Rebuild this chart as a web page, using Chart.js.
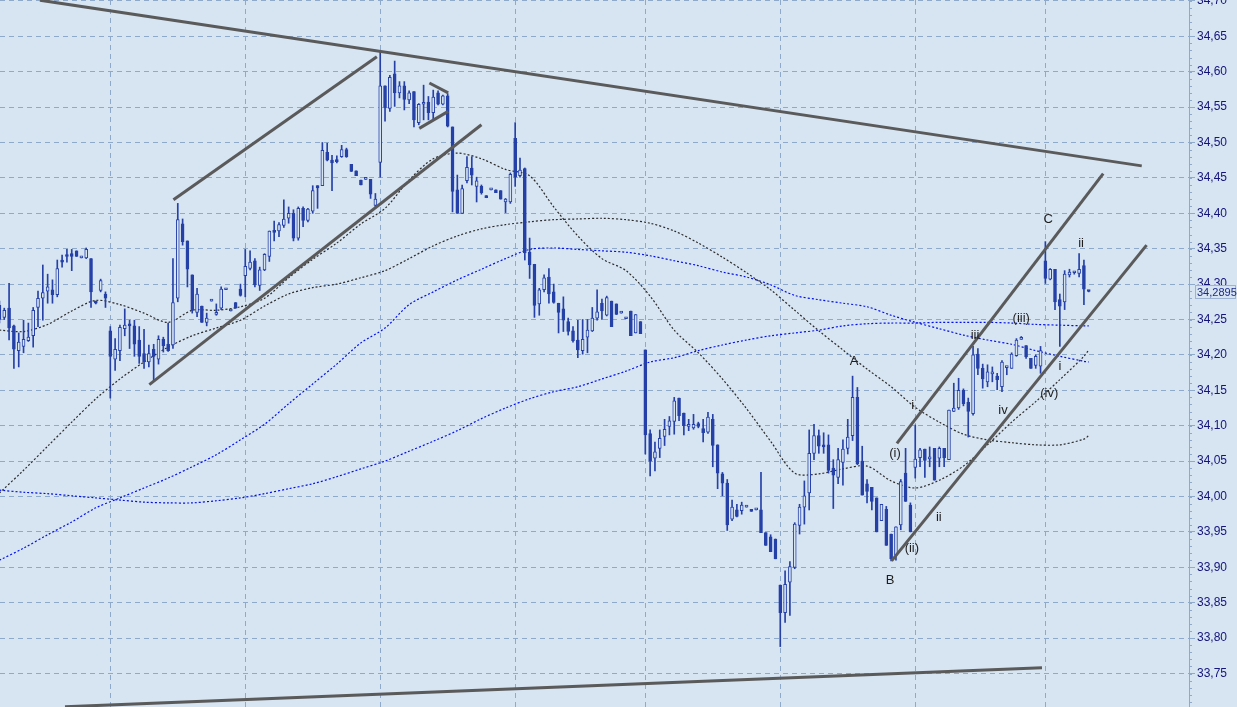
<!DOCTYPE html>
<html>
<head>
<meta charset="utf-8">
<script src="https://cdn.jsdelivr.net/npm/chart.js@4.4.1/dist/chart.umd.min.js"></script>
<style>
  html, body { margin: 0; padding: 0; background: #d7e4f2; }
  #wrap { width: 1237px; height: 707px; }
</style>
</head>
<body>
<div id="wrap"><canvas id="chart"></canvas></div>
<script>
/* DATA */

const opens = [
34.270,34.253,34.266,34.241,34.206,34.212,34.220,34.227,34.267,34.280,
34.290,34.292,34.285,34.334,34.341,34.343,34.347,34.337,34.337,34.336,
34.276,34.291,34.286,34.234,34.194,34.206,34.237,34.242,34.241,34.221,
34.202,34.190,34.208,34.194,34.222,34.215,34.214,34.280,34.385,34.361,
34.313,34.260,34.269,34.246,34.276,34.257,34.266,34.292,34.262,34.274,
34.293,34.312,34.322,34.333,34.298,34.320,34.339,34.375,34.375,34.383,
34.393,34.400,34.365,34.407,34.390,34.403,34.439,34.439,34.486,34.475,
34.475,34.480,34.490,34.469,34.460,34.447,34.448,34.448,34.411,34.472,
34.580,34.548,34.597,34.570,34.580,34.560,34.572,34.528,34.554,34.557,
34.542,34.570,34.554,34.566,34.522,34.433,34.400,34.446,34.464,34.438,
34.438,34.425,34.433,34.433,34.432,34.416,34.416,34.506,34.453,34.463,
34.345,34.328,34.272,34.292,34.310,34.289,34.273,34.265,34.247,34.234,
34.221,34.206,34.225,34.234,34.252,34.273,34.256,34.276,34.272,34.259,
34.251,34.262,34.231,34.247,34.207,34.089,34.054,34.068,34.085,34.099,
34.106,34.139,34.118,34.099,34.097,34.103,34.096,34.091,34.109,34.073,
34.032,34.019,33.968,33.981,33.980,33.985,33.981,33.981,33.981,33.949,
33.943,33.940,33.875,33.836,33.879,33.900,33.959,33.985,34.005,34.061,
34.086,34.073,34.073,34.040,34.027,34.048,34.068,34.086,34.140,34.050,
34.018,34.013,33.998,33.966,33.982,33.947,33.917,33.960,34.033,33.988,
34.041,34.055,34.067,34.053,34.068,34.054,34.068,34.052,34.120,34.125,
34.150,34.133,34.117,34.201,34.181,34.162,34.173,34.170,34.155,34.182,
34.181,34.199,34.222,34.213,34.195,34.185,34.184,34.333,34.307,34.321,
34.278,34.275,34.313,34.316,34.315,34.326,34.290
];
const highs = [
34.276,34.266,34.301,34.242,34.231,34.249,34.245,34.267,34.290,34.327,
34.314,34.306,34.334,34.341,34.349,34.349,34.347,34.337,34.351,34.336,
34.276,34.307,34.289,34.240,34.223,34.242,34.265,34.249,34.249,34.240,
34.236,34.214,34.215,34.227,34.225,34.245,34.336,34.414,34.392,34.361,
34.313,34.294,34.269,34.259,34.276,34.272,34.296,34.292,34.262,34.274,
34.300,34.349,34.347,34.336,34.324,34.343,34.375,34.389,34.387,34.419,
34.409,34.405,34.409,34.409,34.407,34.439,34.439,34.500,34.499,34.482,
34.481,34.496,34.492,34.469,34.460,34.447,34.448,34.448,34.428,34.630,
34.580,34.595,34.615,34.586,34.586,34.573,34.572,34.555,34.581,34.565,
34.574,34.573,34.567,34.569,34.522,34.454,34.440,34.480,34.480,34.451,
34.440,34.425,34.433,34.433,34.432,34.421,34.457,34.528,34.478,34.464,
34.365,34.328,34.294,34.313,34.322,34.300,34.273,34.282,34.252,34.240,
34.249,34.250,34.250,34.267,34.292,34.279,34.283,34.276,34.272,34.259,
34.251,34.262,34.257,34.247,34.207,34.094,34.077,34.094,34.109,34.113,
34.140,34.139,34.118,34.109,34.116,34.105,34.109,34.119,34.116,34.073,
34.034,34.024,33.995,33.989,33.992,33.985,33.981,33.981,34.034,33.949,
33.946,33.940,33.875,33.895,33.908,33.963,33.989,34.022,34.094,34.102,
34.094,34.090,34.087,34.052,34.068,34.080,34.109,34.170,34.154,34.071,
34.024,34.013,33.998,33.989,33.986,33.947,33.957,34.024,34.068,33.991,
34.101,34.068,34.067,34.070,34.068,34.070,34.068,34.122,34.160,34.167,
34.152,34.139,34.212,34.209,34.187,34.186,34.183,34.174,34.192,34.183,
34.203,34.223,34.226,34.213,34.195,34.200,34.212,34.360,34.322,34.321,
34.286,34.319,34.321,34.318,34.343,34.334,34.290
];
const lows = [
34.245,34.250,34.221,34.181,34.183,34.203,34.219,34.211,34.240,34.249,
34.273,34.273,34.282,34.324,34.331,34.319,34.339,34.337,34.336,34.267,
34.272,34.289,34.267,34.139,34.178,34.192,34.227,34.209,34.198,34.188,
34.181,34.183,34.164,34.187,34.204,34.205,34.209,34.275,34.355,34.296,
34.259,34.254,34.246,34.241,34.276,34.256,34.264,34.292,34.262,34.266,
34.283,34.282,34.320,34.296,34.291,34.319,34.332,34.361,34.367,34.380,
34.386,34.361,34.362,34.381,34.388,34.400,34.407,34.439,34.474,34.432,
34.471,34.479,34.479,34.459,34.453,34.440,34.448,34.421,34.407,34.451,
34.530,34.544,34.551,34.563,34.546,34.555,34.522,34.525,34.532,34.532,
34.532,34.553,34.553,34.522,34.402,34.400,34.400,34.443,34.440,34.416,
34.427,34.422,34.433,34.429,34.420,34.401,34.414,34.438,34.451,34.334,
34.308,34.253,34.256,34.289,34.273,34.273,34.231,34.233,34.228,34.218,
34.196,34.201,34.203,34.233,34.249,34.250,34.255,34.240,34.257,34.259,
34.251,34.227,34.231,34.230,34.060,34.029,34.036,34.055,34.072,34.087,
34.088,34.107,34.087,34.093,34.095,34.097,34.077,34.089,34.042,34.011,
34.001,33.952,33.966,33.971,33.975,33.985,33.979,33.981,33.949,33.931,
33.922,33.912,33.788,33.822,33.832,33.898,33.947,33.961,33.981,34.052,
34.061,34.061,34.033,33.983,34.018,34.016,34.060,34.079,34.045,34.002,
33.991,33.981,33.950,33.966,33.931,33.909,33.910,33.953,33.993,33.950,
34.026,34.042,34.027,34.042,34.023,34.042,34.042,34.052,34.120,34.123,
34.128,34.084,34.115,34.172,34.153,34.155,34.162,34.151,34.148,34.172,
34.181,34.198,34.222,34.195,34.181,34.181,34.174,34.301,34.306,34.264,
34.212,34.264,34.310,34.314,34.310,34.271,34.289
];
const closes = [
34.250,34.263,34.238,34.208,34.218,34.222,34.225,34.263,34.280,34.288,
34.296,34.285,34.322,34.331,34.339,34.339,34.339,34.337,34.349,34.289,
34.273,34.305,34.280,34.198,34.208,34.239,34.242,34.241,34.215,34.198,
34.190,34.202,34.198,34.222,34.213,34.206,34.274,34.391,34.360,34.321,
34.263,34.286,34.246,34.252,34.276,34.260,34.293,34.292,34.262,34.266,
34.284,34.325,34.331,34.299,34.320,34.342,34.375,34.373,34.384,34.392,
34.400,34.365,34.407,34.390,34.406,34.432,34.436,34.489,34.475,34.471,
34.473,34.490,34.480,34.459,34.453,34.440,34.448,34.427,34.420,34.580,
34.549,34.592,34.570,34.580,34.561,34.570,34.532,34.554,34.554,34.542,
34.564,34.554,34.566,34.523,34.431,34.400,34.435,34.465,34.454,34.446,
34.429,34.422,34.433,34.429,34.420,34.420,34.455,34.451,34.461,34.344,
34.327,34.270,34.292,34.309,34.286,34.274,34.260,34.249,34.233,34.220,
34.207,34.222,34.235,34.252,34.261,34.262,34.281,34.240,34.257,34.259,
34.251,34.227,34.257,34.230,34.087,34.050,34.063,34.082,34.095,34.107,
34.135,34.114,34.100,34.102,34.102,34.099,34.090,34.112,34.072,34.033,
34.019,33.960,33.985,33.972,33.988,33.985,33.979,33.981,33.949,33.931,
33.922,33.912,33.836,33.876,33.901,33.961,33.985,34.001,34.061,34.086,
34.071,34.070,34.037,34.030,34.052,34.067,34.084,34.140,34.046,34.002,
34.007,33.993,33.950,33.989,33.931,33.912,33.957,34.021,33.993,33.950,
34.053,34.066,34.051,34.056,34.023,34.068,34.055,34.122,34.125,34.150,
34.131,34.120,34.200,34.181,34.166,34.176,34.176,34.165,34.190,34.182,
34.201,34.221,34.222,34.197,34.181,34.198,34.206,34.308,34.321,34.275,
34.269,34.314,34.317,34.316,34.321,34.293,34.2895
];
const lastPrice = 34.2895;

// moving averages, read at every 5th bar
const maIdx = [0,5,10,15,20,25,30,35,40,45,50,55,60,65,70,75,80,85,90,95,
  100,105,110,115,120,125,130,135,140,145,150,155,160,165,170,175,180,185,190,195,
  200,205,210,215,220,225,226];
const maFast = [34.235,34.233,34.243,34.262,34.277,34.271,34.259,34.246,34.263,34.263,
  34.268,34.280,34.309,34.335,34.358,34.385,34.407,34.447,34.477,34.485,
  34.477,34.462,34.453,34.409,34.368,34.336,34.319,34.283,34.235,34.203,
  34.166,34.124,34.078,34.033,34.032,34.039,34.043,34.022,34.012,34.023,
  34.043,34.073,34.105,34.134,34.165,34.198,34.207];
const maMid = [34.005,34.037,34.071,34.105,34.138,34.166,34.190,34.211,34.227,34.238,
  34.249,34.269,34.286,34.295,34.300,34.309,34.319,34.336,34.354,34.368,
  34.378,34.384,34.388,34.391,34.392,34.393,34.391,34.386,34.375,34.358,
  34.338,34.316,34.292,34.263,34.234,34.207,34.180,34.155,34.126,34.105,
  34.088,34.080,34.076,34.073,34.073,34.081,34.086];
const maBlue1 = [33.910,33.927,33.946,33.964,33.984,33.998,34.012,34.026,34.042,34.059,
  34.080,34.102,34.131,34.159,34.187,34.217,34.238,34.271,34.289,34.306,
  34.321,34.336,34.349,34.351,34.349,34.347,34.345,34.340,34.333,34.326,
  34.317,34.310,34.299,34.284,34.278,34.273,34.268,34.256,34.246,34.237,
  34.228,34.221,34.215,34.206,34.198,34.191,34.190];
const maBlue2 = [34.009,34.006,34.004,34.001,33.998,33.995,33.992,33.991,33.991,33.994,
  33.998,34.004,34.011,34.018,34.028,34.039,34.050,34.064,34.078,34.093,
  34.110,34.125,34.138,34.148,34.155,34.166,34.177,34.190,34.196,34.206,
  34.214,34.221,34.227,34.231,34.235,34.241,34.244,34.245,34.245,34.246,
  34.246,34.246,34.245,34.243,34.242,34.241,34.241];

// drawn trend lines: [x1, y1, x2, y2] in bar index / price
const trendLines = [
  [8.4, 34.701, 237.0, 34.467],
  [13.6, 33.703, 216.3, 33.758],
  [36.1, 34.419, 78.3, 34.621],
  [31.1, 34.158, 100.0, 34.525],
  [89.2, 34.584, 93.1, 34.570],
  [87.1, 34.520, 93.1, 34.544],
  [186.2, 34.075, 229.0, 34.456],
  [185.1, 33.909, 238.0, 34.355]
];

// wave count labels
const waveText = ['A','B','C','(i)','(ii)','(iii)','(iv)','i','ii','iii','iv','i','ii'];
const waveX = [177.3,184.8,217.6,185.8,189.3,212.0,217.8,189.5,194.9,202.4,208.2,220.0,224.4];
const waveY = [34.191,33.882,34.392,34.061,33.926,34.252,34.146,34.129,33.971,34.227,34.121,34.184,34.358];

const gridIdx = [23,51,79,107,134,162,190,217];

/* STYLE */

const bg = '#d7e4f2';
const candleBlue = '#2541a8';
const gridBlue = '#8fa9cb';

/* BUILD */

const wicks = [];
const bodies = [];
const bodyFill = [];
for (let i = 0; i < opens.length; i++) {
    wicks.push({x: i, y: [lows[i], highs[i]]});
    bodies.push({x: i, y: [Math.min(opens[i], closes[i]), Math.max(opens[i], closes[i])]});
    bodyFill.push(closes[i] < opens[i] ? candleBlue : bg);
}

function series(vals){
    return maIdx.map((k, j) => ({x: k, y: vals[j]}));
}

const lineSets = trendLines.map(t => ({
    type: 'line',
    data: [{x: t[0], y: t[1]}, {x: t[2], y: t[3]}],
    borderColor: '#5a5a5a',
    borderWidth: 3,
    pointRadius: 0,
    order: 0
}));

function maSet(vals, color){
    return {
        type: 'line',
        data: series(vals),
        borderColor: color,
        borderWidth: 1.2,
        borderDash: [2, 2],
        pointRadius: 0,
        tension: 0.3,
        order: 3
    };
}

const yMin = 34 + (496.5 - 707) / 708;
const yMax = 34 + 496.5 / 708;

/* PLUGIN: background, minor ticks, price box, wave labels */

const extras = {
    id: 'extras',
    beforeDraw(chart){
        const c = chart.ctx;
        c.save();
        c.fillStyle = bg;
        c.fillRect(0, 0, chart.width, chart.height);
        c.restore();
    },
    afterDraw(chart){
        const c = chart.ctx;
        const xs = chart.scales.x;
        const ys = chart.scales.y;
        const ax = chart.chartArea.right;

        c.save();
        c.strokeStyle = gridBlue;
        c.lineWidth = 1;
        for (let k = 0; k <= 100; k++) {
            const py = Math.round(ys.getPixelForValue(33.70 + k * 0.01)) + 0.5;
            c.beginPath();
            c.moveTo(ax, py);
            c.lineTo(ax + 3, py);
            c.stroke();
        }

        // last price box
        const py = Math.round(ys.getPixelForValue(lastPrice));
        c.fillStyle = bg;
        c.fillRect(ax + 6, py - 7, chart.width - ax - 7, 14);
        c.strokeStyle = '#9db3d2';
        c.strokeRect(ax + 6.5, py - 6.5, chart.width - ax - 8, 13);
        c.fillStyle = '#1c2a8c';
        c.font = '11px "Liberation Sans", Arial, sans-serif';
        c.textBaseline = 'middle';
        c.fillText(lastPrice.toFixed(4).replace('.', ','), ax + 8, py + 0.5);

        // wave labels
        c.fillStyle = '#1e1e1e';
        c.font = '13px "Liberation Sans", Arial, sans-serif';
        c.textAlign = 'center';
        for (let j = 0; j < waveText.length; j++) {
            c.fillText(waveText[j], xs.getPixelForValue(waveX[j]), ys.getPixelForValue(waveY[j]));
        }
        c.restore();
    }
};

/* CHART */

new Chart(document.getElementById('chart'), {
    type: 'bar',
    data: {
        datasets: [
            ...lineSets,
            {
                data: bodies,
                backgroundColor: bodyFill,
                borderColor: candleBlue,
                borderWidth: 1,
                borderSkipped: false,
                barThickness: 3,
                minBarLength: 2,
                grouped: false,
                order: 1
            },
            {
                data: wicks,
                backgroundColor: candleBlue,
                borderWidth: 0,
                barThickness: 1,
                minBarLength: 1,
                grouped: false,
                order: 2
            },
            maSet(maFast, '#2a2a2a'),
            maSet(maMid, '#2a2a2a'),
            maSet(maBlue1, '#0010ee'),
            maSet(maBlue2, '#0010ee')
        ]
    },
    plugins: [extras],
    options: {
        responsive: true,
        maintainAspectRatio: false,
        animation: false,
        events: [],
        layout: { padding: 0 },
        plugins: {
            legend: { display: false },
            tooltip: { enabled: false }
        },
        scales: {
            x: {
                type: 'linear',
                offset: false,
                min: 0.116,
                max: 246.8,
                afterBuildTicks: s => { s.ticks = gridIdx.map(v => ({value: v})); },
                afterFit: s => { s.height = 0; s.paddingLeft = 0; s.paddingRight = 0; },
                ticks: { display: false },
                grid: { color: gridBlue, drawTicks: false, offset: false },
                border: { display: false, dash: [5, 4] }
            },
            y: {
                position: 'right',
                min: yMin,
                max: yMax,
                afterBuildTicks: s => {
                    const t = [];
                    for (let k = 0; k <= 19; k++) t.push({value: +(33.75 + k * 0.05).toFixed(2)});
                    s.ticks = t;
                },
                afterFit: s => { s.width = 48; s.paddingTop = 0; s.paddingBottom = 0; },
                ticks: {
                    color: '#14147a',
                    font: { family: '"Liberation Sans", Arial, sans-serif', size: 12 },
                    padding: 2,
                    callback: v => v.toFixed(2).replace('.', ',')
                },
                grid: { color: gridBlue, tickColor: gridBlue, tickLength: 6 },
                border: { display: true, color: gridBlue, dash: [5, 4] }
            }
        }
    }
});
</script>
</body>
</html>
